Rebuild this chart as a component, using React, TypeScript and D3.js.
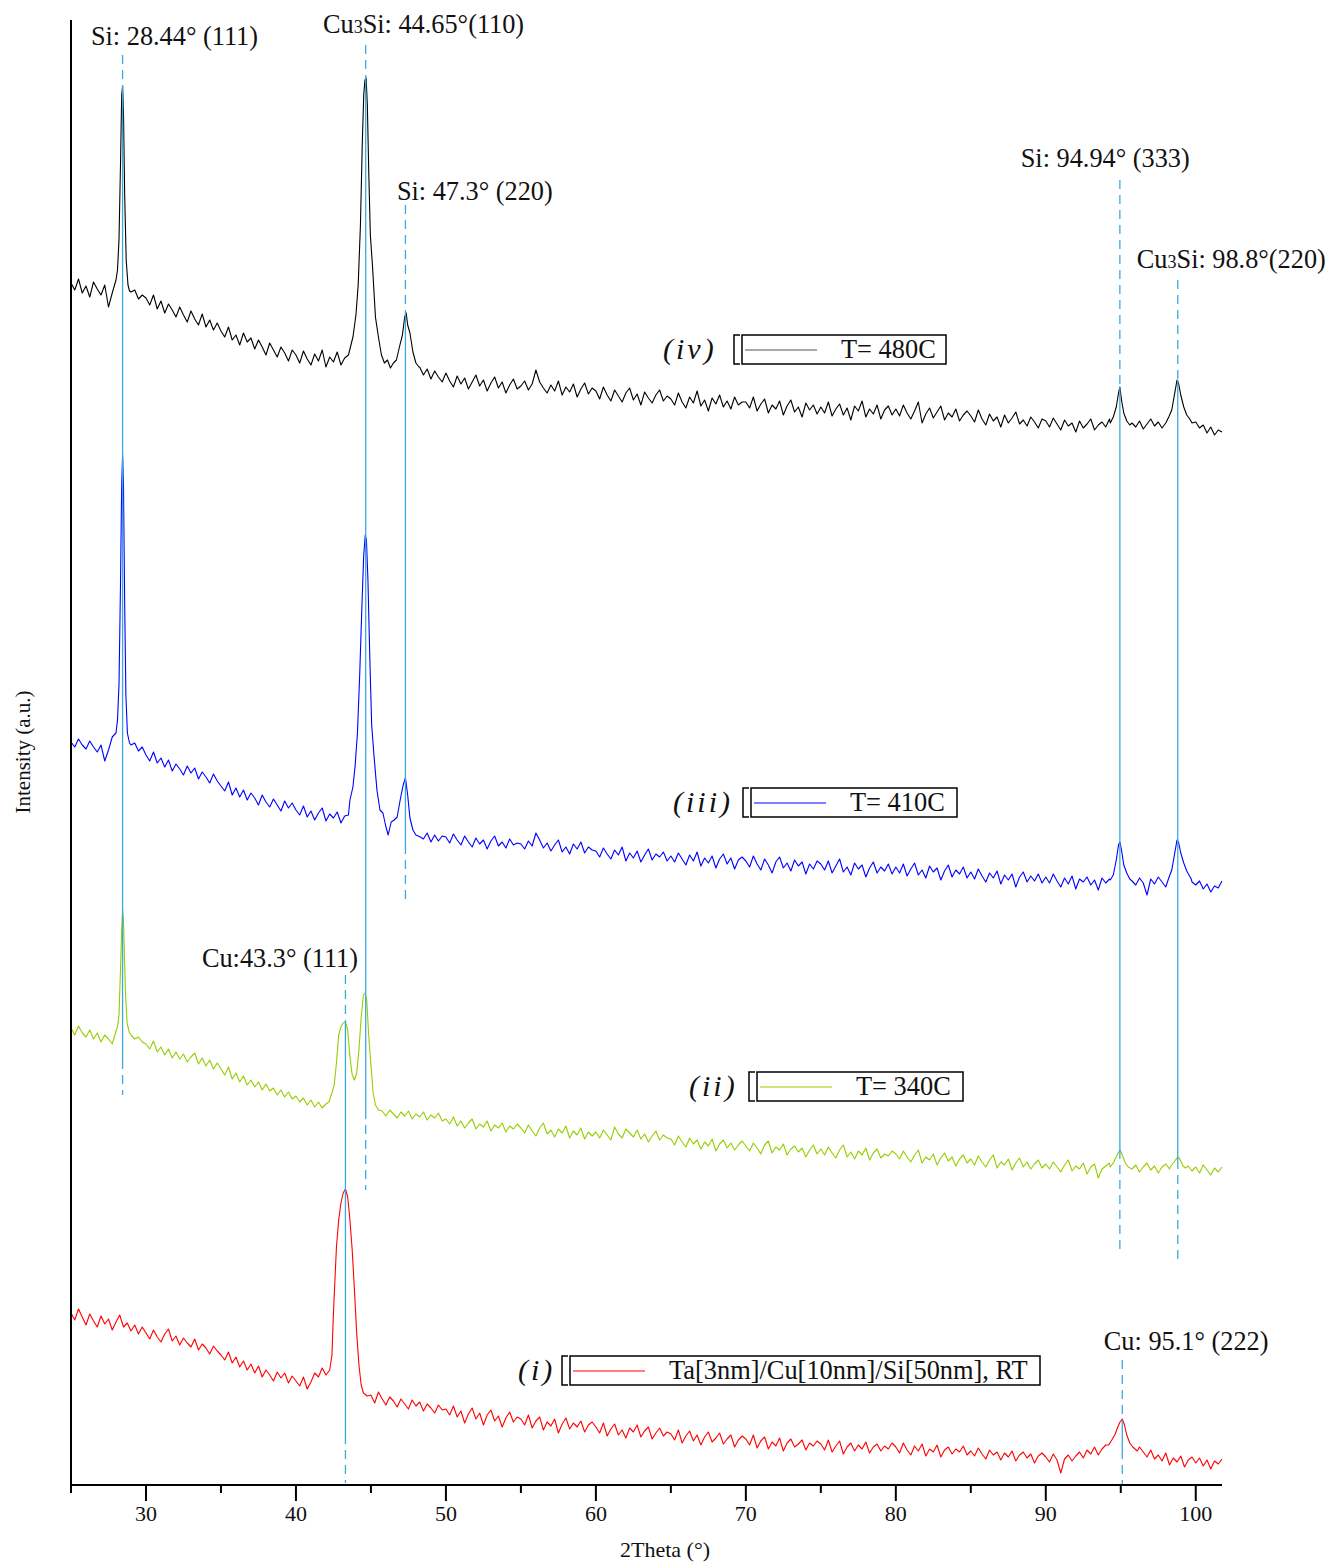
import React from 'react';
import * as d3 from 'd3';

// 2Theta grid of the traces: 25° upward, one value every 0.25°
// (null = that point lies inside a peak, see the peak lists)
const THETA_START = 25;
const THETA_STEP = 0.25;

// (iv) T= 480C
const blackBase = [
  1202, 1195, 1206, 1192, 1199, 1188, 1203, 1196, 1190, 1200, 1178, 1192, 1205, null, null, null, 1193, 1195, 1186, 1190,
  1187, 1180, 1190, 1176, 1184, 1172, 1181, 1175, 1168, 1178, 1170, 1163, 1174, 1166, 1160, 1171, 1158, 1165, 1155, 1162,
  1154, 1148, 1158, 1145, 1150, 1140, 1152, 1143, 1147, 1136, 1145, 1138, 1130, 1142, 1135, 1128, 1138, 1132, 1124, 1135,
  1130, 1122, 1134, 1126, 1120, 1131, 1124, 1135, 1118, 1128, 1123, 1133, 1120, 1127, null, null, null, null, null, null,
  null, null, null, null, null, null, null, null, null, null, null, null, null, 1118, 1110, 1116, 1106, 1114, 1108, 1103,
  1112, 1104, 1098, 1109, 1101, 1107, 1096, 1103, 1110, 1099, 1105, 1094, 1102, 1108, 1097, 1103, 1092, 1100, 1106, 1096,
  1099, 1104, 1095, 1101, 1115, 1103, 1097, 1092, 1100, 1094, 1104, 1090, 1098, 1093, 1101, 1088, 1096, 1102, 1091, 1097,
  1094, 1086, 1098, 1090, 1084, 1095, 1089, 1083, 1092, 1097, 1085, 1091, 1080, 1093, 1087, 1082, 1090, 1095, 1084, 1089,
  1086, 1080, 1092, 1083, 1077, 1088, 1082, 1094, 1079, 1085, 1074, 1087, 1081, 1090, 1078, 1084, 1076, 1088, 1080, 1083,
  1083, 1077, 1088, 1074, 1081, 1086, 1072, 1080, 1076, 1084, 1070, 1079, 1085, 1073, 1078, 1068, 1082, 1075, 1080, 1071,
  1078, 1072, 1083, 1069, 1076, 1081, 1070, 1077, 1065, 1079, 1074, 1084, 1068, 1076, 1071, 1080, 1066, 1075, 1079, 1070,
  1076, 1069, 1080, 1072, 1066, 1074, 1083, 1062, 1071, 1077, 1067, 1073, 1079, 1065, 1072, 1068, 1076, 1064, 1070, 1074,
  1069, 1063, 1075, 1066, 1060, 1071, 1064, 1068, 1058, 1070, 1062, 1067, 1073, 1061, 1065, 1059, 1068, 1063, 1057, 1066,
  1064, 1058, 1067, 1061, 1055, 1065, 1059, 1062, 1053, 1064, 1057, 1061, 1066, 1055, 1060, 1063, 1058, 1066, null, null,
  null, null, null, 1062, 1058, 1064, 1056, 1061, 1066, 1059, 1063, 1057, 1062, null, null, null, null, null, null, 1062,
  1063, 1057, 1060, 1052, 1058, 1050, 1055, 1053,
];
const blackPeaks = [
  [[28.1, 1215], [28.2, 1245], [28.3, 1320], [28.38, 1390], [28.44, 1399], [28.5, 1372], [28.58, 1290], [28.68, 1225], [28.8, 1200], [28.9, 1194]],
  [[43.5, 1130], [43.8, 1148], [44.0, 1170], [44.15, 1200], [44.3, 1260], [44.42, 1340], [44.52, 1390], [44.6, 1405], [44.68, 1407], [44.76, 1380],
   [44.86, 1310], [44.96, 1250], [45.1, 1220], [45.3, 1168], [45.5, 1148], [45.7, 1130], [45.9, 1122], [46.1, 1125], [46.3, 1117], [46.5, 1122],
   [46.7, 1125], [46.9, 1138], [47.1, 1150], [47.25, 1168], [47.35, 1172], [47.45, 1160], [47.6, 1152], [47.8, 1133], [48.0, 1122], [48.2, 1118]],
  [[94.3, 1062], [94.5, 1068], [94.7, 1078], [94.85, 1092], [94.94, 1098], [95.05, 1085], [95.2, 1072], [95.4, 1064], [95.6, 1060]],
  [[98.2, 1068], [98.4, 1075], [98.6, 1092], [98.75, 1105], [98.85, 1102], [99.0, 1090], [99.2, 1078], [99.4, 1070], [99.6, 1066]],
];

// (iii) T= 410C
const blueBase = [
  743, 738, 746, 740, 736, 744, 738, 733, 740, 724, 735, 748, null, null, null, null, 740, 742, 734, 738,
  730, 724, 733, 722, 727, 718, 725, 714, 721, 716, 710, 719, 712, 717, 706, 713, 708, 702, 711, 704,
  699, 694, 703, 690, 697, 688, 695, 685, 692, 687, 680, 690, 683, 678, 686, 680, 674, 684, 677, 682,
  675, 670, 679, 668, 674, 665, 672, 677, 664, 671, 667, 673, 662, 669, null, null, null, null, null, null,
  null, null, null, null, null, null, null, null, null, null, null, null, null, null, 646, 652, 643, 650, 644, 649,
  648, 642, 651, 645, 640, 649, 643, 638, 647, 641, 645, 636, 644, 649, 639, 643, 637, 646, 640, 642,
  641, 636, 644, 639, 652, 645, 637, 642, 634, 640, 645, 633, 638, 631, 641, 636, 643, 632, 638, 635,
  634, 628, 637, 631, 626, 635, 630, 638, 624, 632, 627, 634, 623, 630, 636, 625, 631, 628, 633, 624,
  629, 623, 632, 626, 620, 630, 624, 633, 619, 627, 622, 629, 617, 626, 631, 621, 627, 616, 625, 628,
  624, 618, 629, 621, 615, 626, 620, 612, 623, 628, 617, 622, 614, 625, 619, 623, 611, 621, 616, 624,
  621, 615, 624, 612, 619, 626, 613, 618, 610, 622, 616, 620, 608, 617, 623, 612, 618, 614, 621, 611,
  618, 612, 621, 609, 616, 622, 610, 615, 607, 619, 613, 617, 605, 614, 620, 608, 615, 611, 618, 607,
  613, 606, 616, 609, 603, 612, 607, 614, 601, 610, 605, 611, 598, 608, 613, 603, 609, 604, 611, 602,
  608, 602, 611, 604, 598, 607, 601, 609, 596, 606, 603, 608, 600, 605, 595, 607, 602, 606, null, null,
  null, null, null, 604, 600, 607, 602, 590, 606, 601, 608, 603, 598, null, null, null, null, null, null, 603,
  600, 604, 596, 601, 593, 599, 597, 604,
];
const bluePeaks = [
  [[28.0, 752], [28.1, 765], [28.2, 800], [28.3, 900], [28.38, 1000], [28.44, 1030], [28.5, 1000], [28.58, 880], [28.66, 790], [28.76, 752], [28.9, 742]],
  [[43.5, 670], [43.6, 685], [43.8, 698], [43.95, 720], [44.1, 752], [44.25, 810], [44.4, 880], [44.52, 930], [44.62, 950], [44.7, 945],
   [44.8, 905], [44.92, 830], [45.05, 760], [45.2, 730], [45.4, 695], [45.6, 675], [45.8, 672], [46.0, 658], [46.15, 650], [46.35, 663],
   [46.55, 665], [46.75, 668], [46.95, 685], [47.15, 700], [47.3, 707], [47.45, 690], [47.6, 667], [47.8, 655], [48.0, 650], [48.3, 648]],
  [[94.3, 605], [94.5, 610], [94.7, 625], [94.85, 640], [94.94, 643], [95.05, 635], [95.2, 620], [95.4, 612], [95.6, 606]],
  [[98.2, 607], [98.4, 615], [98.6, 632], [98.75, 645], [98.85, 643], [99.0, 632], [99.2, 622], [99.4, 614], [99.7, 606]],
];

// (ii) T= 340C
const greenBase = [
  457, 450, 459, 452, 448, 455, 446, 452, 443, 450, 446, 441, 454, null, null, null, 450, 446, 448, 443,
  441, 436, 444, 433, 438, 430, 436, 427, 433, 426, 431, 423, 428, 432, 421, 427, 419, 425, 416, 422,
  416, 410, 418, 406, 412, 403, 409, 400, 405, 398, 403, 395, 401, 394, 397, 390, 395, 388, 393, 386,
  389, 383, 387, 380, 385, 378, 383, 377, 381, null, null, null, null, null, null, null, null, null, null, null,
  null, null, null, 374, 369, 375, 371, 367, 373, 369, 374, 366, 371, 368, 373, 365, 370, 367, 372, 364,
  366, 361, 368, 359, 364, 357, 362, 366, 356, 361, 358, 364, 354, 360, 357, 362, 353, 359, 356, 361,
  357, 352, 360, 354, 349, 357, 362, 351, 355, 348, 356, 352, 359, 347, 354, 350, 357, 346, 353, 349,
  353, 347, 355, 350, 345, 358, 351, 347, 356, 352, 348, 355, 346, 351, 343, 349, 354, 345, 350, 347,
  346, 340, 349, 343, 338, 347, 341, 345, 336, 343, 339, 346, 334, 341, 345, 337, 342, 335, 340, 344,
  339, 334, 342, 337, 331, 340, 344, 332, 338, 335, 341, 330, 336, 339, 333, 337, 328, 335, 340, 331,
  336, 330, 338, 332, 327, 335, 340, 328, 333, 326, 334, 330, 337, 325, 332, 336, 327, 331, 329, 334,
  331, 326, 334, 328, 323, 330, 335, 322, 328, 325, 331, 320, 327, 332, 324, 328, 319, 326, 330, 322,
  326, 320, 329, 323, 318, 325, 330, 317, 323, 320, 326, 315, 322, 327, 318, 323, 316, 321, 325, 317,
  321, 316, 323, 318, 313, 320, 325, 314, 319, 316, 322, 311, 318, 321, 307, 316, 319, 322, null, null,
  null, null, null, 316, 320, 313, 318, 322, 315, 319, 312, 318, 321, 316, null, null, null, null, 319, 314,
  318, 312, 320, 315, 310, 317, 313, 318,
];
const greenPeaks = [
  [[28.1, 458], [28.2, 470], [28.3, 515], [28.38, 555], [28.44, 575], [28.5, 565], [28.56, 530], [28.64, 490], [28.74, 462], [28.9, 452]],
  [[42.2, 383], [42.4, 392], [42.55, 400], [42.7, 422], [42.85, 450], [43.0, 458], [43.15, 462], [43.3, 463], [43.45, 455], [43.6, 428],
   [43.75, 410], [43.9, 405], [44.05, 412], [44.2, 435], [44.35, 468], [44.5, 490], [44.62, 492], [44.72, 485], [44.85, 450], [45.0, 420],
   [45.15, 392], [45.3, 380], [45.5, 375]],
  [[94.3, 318], [94.5, 322], [94.7, 328], [94.85, 333], [94.95, 335], [95.1, 330], [95.3, 322], [95.5, 318]],
  [[98.3, 318], [98.5, 322], [98.7, 326], [98.85, 328], [99.0, 324], [99.15, 319], [99.3, 317]],
];

// (i) Ta[3nm]/Cu[10nm]/Si[50nm], RT
const redBase = [
  172, 165, 176, 168, 160, 171, 164, 158, 169, 161, 166, 155, 163, 170, 158, 162, 154, 160, 151, 158,
  152, 146, 155, 148, 143, 151, 156, 144, 149, 140, 147, 142, 138, 146, 135, 141, 137, 131, 139, 134,
  130, 125, 133, 122, 128, 118, 124, 115, 121, 112, 119, 108, 115, 110, 104, 113, 107, 112, 102, 109,
  104, 99, 108, 96, 103, 112, 108, 117, 110, 115, null, null, null, null, null, null, null, null, null, 89,
  90, 82, 93, 86, 80, 88, 84, 78, 86, 81, 76, 85, 79, 83, 74, 81, 77, 72, 80, 75,
  76, 70, 79, 68, 74, 62, 71, 77, 66, 72, 60, 70, 75, 64, 69, 58, 67, 73, 63, 68,
  66, 60, 70, 57, 64, 68, 55, 63, 59, 66, 52, 61, 67, 56, 62, 58, 64, 53, 60, 63,
  58, 52, 62, 49, 56, 61, 50, 55, 47, 57, 53, 60, 48, 54, 58, 46, 52, 57, 49, 53,
  51, 45, 55, 42, 49, 54, 44, 50, 40, 48, 53, 43, 47, 52, 41, 46, 50, 38, 45, 49,
  46, 40, 50, 37, 44, 48, 36, 43, 39, 47, 34, 42, 46, 38, 41, 45, 35, 42, 39, 44,
  41, 35, 45, 33, 39, 44, 31, 38, 42, 34, 40, 36, 43, 32, 38, 41, 34, 39, 36, 42,
  38, 32, 42, 35, 30, 39, 34, 41, 29, 36, 33, 40, 28, 35, 38, 31, 36, 33, 39, 30,
  34, 29, 37, 31, 26, 35, 30, 33, 25, 32, 28, 34, 24, 30, 33, 27, 31, 22, 29, 32,
  28, 23, 31, 25, 12, 26, 30, 24, 29, 33, 27, 35, 31, 38, 30, 36, 40, null, null, null,
  null, null, null, null, null, 38, 33, 28, 35, 26, 30, 24, 32, 20, 27, 23, 29, 18, 25, 28,
  22, 27, 19, 25, 16, 24, 21, 26,
];
const redPeaks = [
  [[42.4, 130], [42.5, 172], [42.6, 205], [42.7, 238], [42.85, 265], [43.0, 282], [43.15, 292], [43.3, 296], [43.45, 288], [43.6, 265],
   [43.75, 235], [43.9, 195], [44.05, 152], [44.2, 120], [44.35, 100], [44.5, 92]],
  [[94.2, 40], [94.4, 45], [94.6, 50], [94.8, 58], [94.95, 63], [95.1, 66], [95.25, 60], [95.4, 50], [95.6, 42], [95.8, 38], [96.1, 34]],
];

const seriesColors = ['#000000', '#0000ff', '#99cc00', '#ff0000'];
const legendTags = ['(iv)', '(iii)', '(ii)', '(i)'];
const legendNames = ['T= 480C', 'T= 410C', 'T= 340C', 'Ta[3nm]/Cu[10nm]/Si[50nm], RT'];

// reference lines: position, dashed top, solid part, dashed bottom (intensity)
const refTheta = [28.44, 44.65, 47.3, 94.94, 98.8, 43.3, 95.1];
const refTop = [1430, 1440, 1280, 1305, 1205, 510, 125];
const refSolidTop = [1399, 1407, 1170, 1098, 1105, 465, 65];
const refSolidBottom = [425, 375, 640, 335, 325, 50, 35];
const refBottom = [390, 295, 580, 235, 225, 2, 0];

// peak labels: [before "3" subscript, after], label start (2Theta), baseline (intensity)
const peakLabelText = [
  ['Si: 28.44° (111)'], ['Cu', 'Si: 44.65°(110)'], ['Si: 47.3° (220)'], ['Si: 94.94° (333)'],
  ['Cu', 'Si: 98.8°(220)'], ['Cu:43.3° (111)'], ['Cu: 95.1° (222)'],
];
const peakLabelTheta = [26.33, 41.8, 46.73, 88.33, 96.07, 33.73, 93.87];
const peakLabelY = [1440, 1452, 1285, 1318, 1217, 518, 135];

const xTicks = [30, 40, 50, 60, 70, 80, 90, 100];
const xMinorTicks = [25, 35, 45, 55, 65, 75, 85, 95];

const width = 1327;
const height = 1562;
const left = 71, right = 1222, top = 20, bottom = 1485;
const font = '"Liberation Serif", "Times New Roman", serif';
const refColor = '#3aa9e2';

// legend boxes: bracket x, box top, box right, tag x
const legendLayout = [
  {bx: 734, by: 335, br: 946, tx: 663},
  {bx: 743, by: 788, br: 957, tx: 673},
  {bx: 749, by: 1072, br: 963, tx: 689},
  {bx: 562, by: 1356, br: 1040, tx: 518},
];

const buildSeries = (base, peaks) => {
  let pts = [];
  base.forEach((v, i) => {
    if (v !== null) pts.push([THETA_START + i * THETA_STEP, v]);
  });
  peaks.forEach(g => g.forEach(p => pts.push(p)));
  return pts.sort((a, b) => a[0] - b[0]);
};

const App = () => {
  let x = d3.scaleLinear().domain([25, 101.75]).range([left, right]);
  let y = d3.scaleLinear().domain([0, 1465]).range([bottom, top]);
  let l = d3.line().x(d => x(d[0])).y(d => y(d[1]));

  let series = [
    buildSeries(blackBase, blackPeaks),
    buildSeries(blueBase, bluePeaks),
    buildSeries(greenBase, greenPeaks),
    buildSeries(redBase, redPeaks),
  ];

  return (
    <div style={{position: 'absolute', left: 0, top: 0}}>
      <svg width={width} height={height} style={{display: 'block', background: '#fff'}} fontFamily={font}>
        {series.map((s, i) =>
          <path key={i} d={l(s)} fill="none" stroke={seriesColors[i]} strokeWidth={1.1} strokeLinejoin="round"/>
        )}

        {refTheta.map((t, i) => <g key={i} stroke={refColor} strokeWidth={1.3}>
          <line x1={x(t)} x2={x(t)} y1={y(refTop[i])} y2={y(refSolidTop[i])} strokeDasharray="9,6"/>
          <line x1={x(t)} x2={x(t)} y1={y(refSolidTop[i])} y2={y(refSolidBottom[i])}/>
          <line x1={x(t)} x2={x(t)} y1={y(refSolidBottom[i])} y2={y(refBottom[i])} strokeDasharray="9,6"/>
        </g>)}

        {peakLabelText.map((parts, i) =>
          <text key={i} x={x(peakLabelTheta[i])} y={y(peakLabelY[i])} fontSize={26.3} fill="#111">
            {parts.length === 1 ? parts[0] :
              <>{parts[0]}<tspan fontSize={18}>3</tspan>{parts[1]}</>}
          </text>
        )}

        {legendLayout.map((g, i) => <g key={i}>
          <text x={g.tx} y={g.by + 24} fontSize={30} fontStyle="italic" letterSpacing={3} fill="#111">{legendTags[i]}</text>
          <path d={`M${g.bx + 6},${g.by}H${g.bx}V${g.by + 29}H${g.bx + 6}`} fill="none" stroke="#000" strokeWidth={1.5}/>
          <rect x={g.bx + 8} y={g.by} width={g.br - g.bx - 8} height={29} fill="none" stroke="#000" strokeWidth={1.5}/>
          <line x1={g.bx + 11} x2={g.bx + 83} y1={g.by + 15} y2={g.by + 15} stroke={i === 0 ? '#555' : seriesColors[i]} strokeWidth={1.2}/>
          <text x={g.bx + 107} y={g.by + 23} fontSize={26.4} fill="#111">{legendNames[i]}</text>
        </g>)}

        <g stroke="#000" strokeWidth={2}>
          <line x1={left} y1={top} x2={left} y2={bottom + 1}/>
          <line x1={left - 1} y1={bottom} x2={right} y2={bottom}/>
          {xTicks.map(t => <line key={t} x1={x(t)} x2={x(t)} y1={bottom} y2={bottom + 16}/>)}
          {xMinorTicks.map(t => <line key={t} x1={x(t)} x2={x(t)} y1={bottom} y2={bottom + 8}/>)}
        </g>
        {xTicks.map(t =>
          <text key={t} x={x(t)} y={1521} fontSize={22} textAnchor="middle" fill="#111">{t}</text>
        )}
        <text x={665} y={1557} fontSize={22} textAnchor="middle" fill="#111">2Theta (°)</text>
        <text transform="translate(30,752) rotate(-90)" fontSize={21} textAnchor="middle" fill="#111">Intensity (a.u.)</text>
      </svg>
    </div>
  );
};

export default App;
